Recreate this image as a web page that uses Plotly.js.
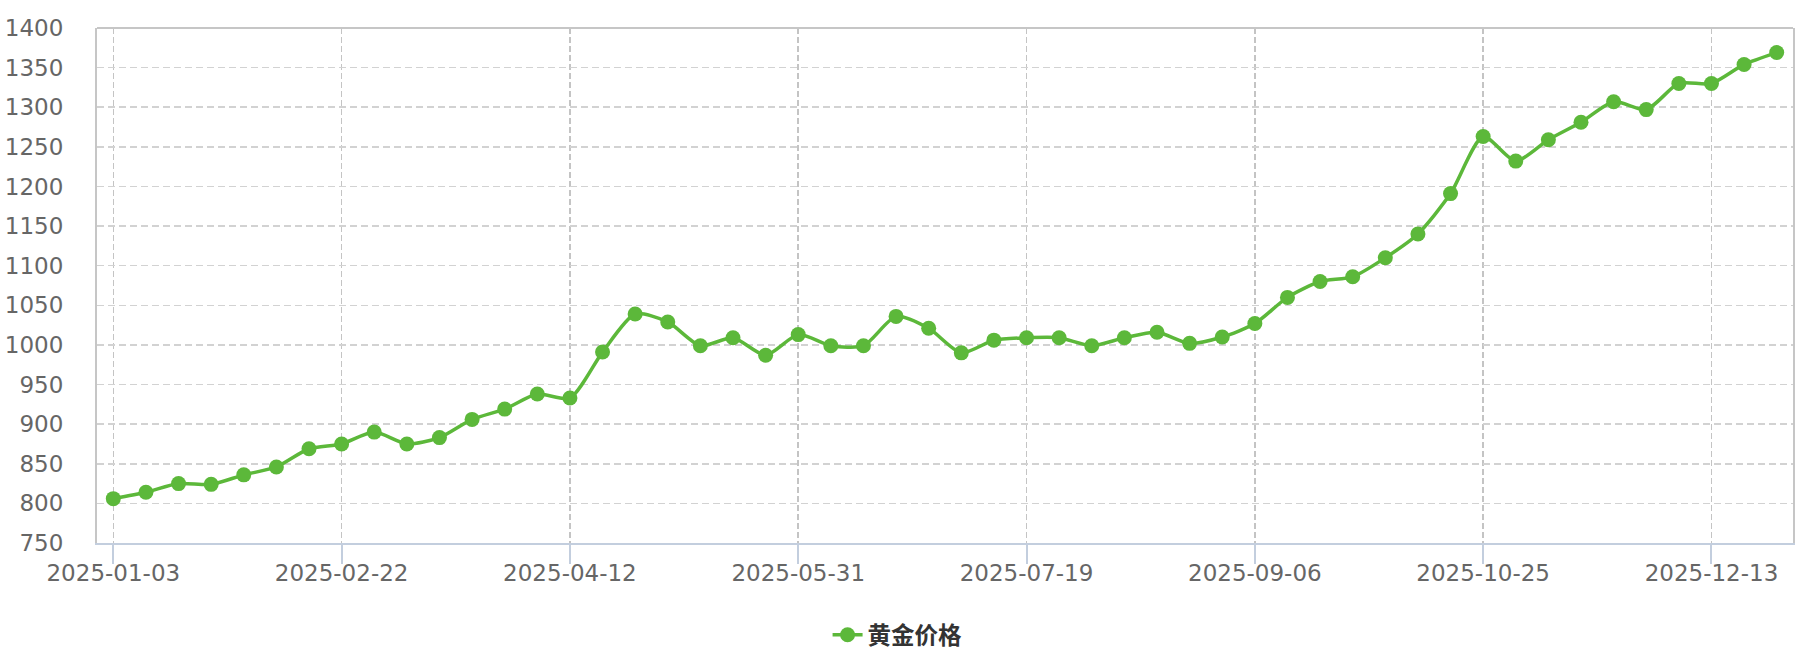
<!DOCTYPE html>
<html>
<head>
<meta charset="utf-8">
<script src="https://cdn.plot.ly/plotly-3.0.1.min.js"></script>
<style>
  html, body { margin: 0; padding: 0; background: #fff; }
  #grafico { width: 1806px; height: 660px; }
</style>
</head>
<body>
<div id="grafico"></div>
<script>
// Datas semanais (categorias do eixo x)
var datas = [
    '2025-01-03', '2025-01-11', '2025-01-18', '2025-01-25', '2025-02-01', '2025-02-08', '2025-02-15',
    '2025-02-22', '2025-03-01', '2025-03-08', '2025-03-15', '2025-03-22', '2025-03-29', '2025-04-05',
    '2025-04-12', '2025-04-19', '2025-04-26', '2025-05-03', '2025-05-10', '2025-05-17', '2025-05-24',
    '2025-05-31', '2025-06-07', '2025-06-14', '2025-06-21', '2025-06-28', '2025-07-05', '2025-07-12',
    '2025-07-19', '2025-07-26', '2025-08-02', '2025-08-09', '2025-08-16', '2025-08-23', '2025-08-30',
    '2025-09-06', '2025-09-13', '2025-09-20', '2025-09-27', '2025-10-04', '2025-10-11', '2025-10-18',
    '2025-10-25', '2025-11-01', '2025-11-08', '2025-11-15', '2025-11-22', '2025-11-29', '2025-12-06',
    '2025-12-13', '2025-12-20', '2025-12-27'
];

// Preco do ouro
var precoOuro = [
    806, 814, 825, 824, 836, 846, 869,
    875, 890, 875, 883, 906, 919, 938,
    933, 991, 1039, 1029, 999, 1009, 987,
    1013, 999, 999, 1036, 1021, 990, 1006,
    1009, 1009, 999, 1009, 1016, 1002, 1010,
    1027, 1060, 1080, 1086, 1110, 1140, 1191,
    1263, 1232, 1259, 1281, 1307, 1297, 1330,
    1330, 1354, 1369
];

// Rotulos mostrados no eixo x
var rotulosX = ['2025-01-03', '2025-02-22', '2025-04-12', '2025-05-31', '2025-07-19', '2025-09-06', '2025-10-25', '2025-12-13'];

var nomeSerie = '黄金价格';
var verde = '#5cb83a';

var traco = {
    type: 'scatter',
    mode: 'lines+markers',
    x: datas,
    y: precoOuro,
    name: nomeSerie,
    line: { color: verde, width: 3.5, shape: 'spline', smoothing: 0.7 },
    marker: { color: verde, size: 15 },
    showlegend: true
};

var fonteEixo = { family: 'DejaVu Sans', size: 23, color: '#666' };

var layout = {
    width: 1806,
    height: 660,
    margin: { l: 97, r: 13, t: 28, b: 117 },
    paper_bgcolor: '#fff',
    plot_bgcolor: '#fff',
    showlegend: true,
    xaxis: {
        type: 'category',
        range: [-0.5, datas.length - 0.5],
        tickmode: 'array',
        tickvals: rotulosX,
        ticktext: rotulosX,
        showgrid: true,
        gridcolor: '#c4c4c4',
        gridwidth: 1.5,
        griddash: '6px,3px',
        showline: true,
        linecolor: '#c3cede',
        linewidth: 2,
        ticks: 'outside',
        ticklen: 19,
        tickwidth: 2,
        tickcolor: '#c3cede',
        ticklabelstandoff: -11,
        tickfont: fonteEixo,
        zeroline: false,
        automargin: false
    },
    yaxis: {
        range: [750, 1400],
        tick0: 750,
        dtick: 50,
        showgrid: true,
        gridcolor: '#d2d2d2',
        gridwidth: 1.5,
        griddash: '7px,4px',
        showline: true,
        mirror: true,
        linecolor: '#c6c6c6',
        linewidth: 2,
        ticks: '',
        ticklabelstandoff: 27,
        tickfont: fonteEixo,
        zeroline: false,
        automargin: false
    },
    // borda de cima da area do grafico
    shapes: [{
        type: 'line', xref: 'paper', yref: 'paper',
        x0: 0, x1: 1, y0: 1, y1: 1,
        line: { color: '#c6c6c6', width: 2 }
    }],
    legend: {
        orientation: 'h',
        xref: 'container',
        yref: 'container',
        x: 0.497,
        xanchor: 'center',
        y: 0.038,
        yanchor: 'middle',
        font: { family: 'Noto Sans CJK SC', size: 23.5, color: '#333', weight: 'bold' },
        itemwidth: 30
    }
};

Plotly.newPlot('grafico', [traco], layout, { displayModeBar: false, staticPlot: true });
</script>
</body>
</html>
